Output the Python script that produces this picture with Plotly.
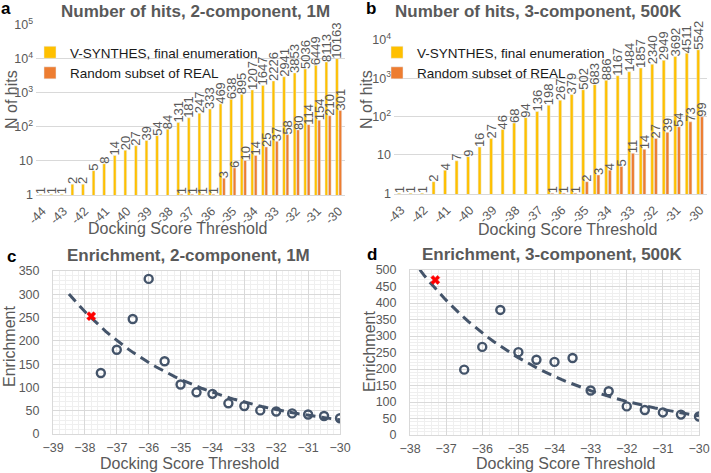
import numpy as np
import plotly.graph_objects as go

W, H = 711, 473

# ---------------- data ----------------
# Panel a: 2-component, 1M
a_x = [-44 + 0.5 * i for i in range(29)]
a_vsyn = [1, 1, 1, 2, 2, 5, 8, 14, 20, 27, 39, 54, 84, 131, 181, 247, 333, 469,
          638, 895, 1207, 1647, 2226, 2941, 3853, 5036, 6449, 8113, 10163]
a_rand = [None] * 13 + [1, 1, 1, 1, 3, 6, 10, 14, 25, 37, 58, 80, 114, 154, 210, 301]

# Panel b: 3-component, 500K
b_x = [-43 + 0.5 * i for i in range(27)]
b_vsyn = [1, 1, 1, 2, 4, 7, 9, 16, 27, 46, 68, 94, 136, 198, 267, 379, 502, 683,
          886, 1167, 1484, 1857, 2340, 2949, 3692, 4511, 5542]
b_rand = [None] * 13 + [1, 1, 1, 2, 3, 4, 5, 11, 14, 27, 39, 54, 73, 99]

# Panel c / d: enrichment (V-SYNTHES hits / random hits)
c_x = [-37.5 + 0.5 * i for i in range(16)]
c_enr = [131, 181, 247, 333, 156.3, 106.3, 89.5, 86.2, 65.9, 60.2, 50.7, 48.2,
         44.2, 41.9, 38.6, 33.8]
c_star_x, c_star_y = [-37.8], [253]

d_x = [-36.5 + 0.5 * i for i in range(14)]
d_enr = [198, 267, 379, 251, 228, 221.5, 233.4, 134.9, 132.6, 86.7, 75.6, 68.4,
         61.8, 56]
d_star_x, d_star_y = [-37.3], [470]

a_ticks = list(range(-44, -29))
b_ticks = list(range(-43, -29))
log_a_vals = [1, 10, 100, 1000, 10000, 100000]
log_a_text = ["1", "10", "10<sup>2</sup>", "10<sup>3</sup>", "10<sup>4</sup>", "10<sup>5</sup>"]
log_b_vals = [1, 10, 100, 1000, 10000]
log_b_text = ["1", "10", "10<sup>2</sup>", "10<sup>3</sup>", "10<sup>4</sup>"]

YEL = "#FFC000"
ORA = "#ED7D31"
NAVY = "#44546A"
GRAY = "#595959"
FONT = "Liberation Sans, Arial, sans-serif"

TITLE_SIZE = 17
AXT_SIZE = 16
TICK_SIZE = 12.5
BARTXT_SIZE = 13
LEG_SIZE = 13.5


def px_x(p):
    return p / W


def px_y(p):
    return 1 - p / H


def lbl(v):
    return ["" if x is None else str(x) for x in v]


fig = go.Figure()


def add_bars(xs, ys, name, color, xa, ya, leg, grp):
    fig.add_trace(go.Bar(x=xs, y=ys, name=name, marker_color=color,
                         text=lbl(ys), textposition="outside", textangle=-90,
                         constraintext="none", cliponaxis=False,
                         textfont=dict(size=BARTXT_SIZE, color=GRAY, family=FONT),
                         xaxis=xa, yaxis=ya, legend=leg, offsetgroup=grp))


add_bars(a_x, a_vsyn, "V-SYNTHES, final enumeration", YEL, "x", "y", "legend", "1")
add_bars(a_x, a_rand, "Random subset of REAL", ORA, "x", "y", "legend", "2")
add_bars(b_x, b_vsyn, "V-SYNTHES, final enumeration", YEL, "x2", "y2", "legend2", "1")
add_bars(b_x, b_rand, "Random subset of REAL", ORA, "x2", "y2", "legend2", "2")


# ---- panel c / d scatter + exponential trendline ----
def exp_trend(xs, ys, x0, x1):
    b, a = np.polyfit(np.array(xs), np.log(np.array(ys)), 1)
    tx = np.linspace(x0, x1, 60)
    return tx, np.exp(a + b * tx)


tcx, tcy = exp_trend(c_x, c_enr, -38.5, -30)
tdx, tdy = exp_trend(d_x, d_enr, -38, -30)

for (tx, ty, xs, ys, sx, sy, xa, ya) in [
        (tcx, tcy, c_x, c_enr, c_star_x, c_star_y, "x3", "y3"),
        (tdx, tdy, d_x, d_enr, d_star_x, d_star_y, "x4", "y4")]:
    fig.add_trace(go.Scatter(x=tx, y=ty, mode="lines", showlegend=False,
                             line=dict(color=NAVY, width=3, dash="10px,6px"),
                             xaxis=xa, yaxis=ya, hoverinfo="skip"))
    fig.add_trace(go.Scatter(x=xs, y=ys, mode="markers", showlegend=False,
                             marker=dict(symbol="circle-open", size=8, color=NAVY,
                                         line=dict(width=2.4, color=NAVY)),
                             xaxis=xa, yaxis=ya))
    fig.add_trace(go.Scatter(x=sx, y=sy, mode="markers", showlegend=False,
                             marker=dict(symbol="x", size=8, color="#FF0000",
                                         line=dict(width=0.5, color="#FF0000")),
                             xaxis=xa, yaxis=ya))

tickfont = dict(size=TICK_SIZE, color=GRAY, family=FONT)

bar_x_common = dict(tickmode="array", tickangle=-45, showgrid=False,
                    showline=True, linecolor="#D9D9D9", linewidth=1,
                    ticks="", tickfont=tickfont, zeroline=False,
                    ticklabelstandoff=3, ticklabeloverflow="allow")
bar_y_common = dict(type="log", showgrid=True, gridcolor="#D9D9D9", gridwidth=1,
                    tickmode="array", ticks="", tickfont=tickfont, showline=False,
                    zeroline=False, ticklabelstandoff=2, ticklabeloverflow="allow")
sc_x_common = dict(dtick=1, showgrid=True, gridcolor="#D9D9D9", gridwidth=1,
                   showline=True, linecolor="#D9D9D9", mirror=True, ticks="",
                   tickfont=tickfont, zeroline=False, ticklabelstandoff=2,
                   ticklabeloverflow="allow",
                   minor=dict(dtick=0.2, showgrid=True, gridcolor="#EFEFEF", gridwidth=1))
sc_y_common = dict(dtick=50, showgrid=True, gridcolor="#D9D9D9", gridwidth=1,
                   showline=True, linecolor="#D9D9D9", mirror=True, ticks="",
                   tickfont=tickfont, zeroline=False, ticklabelstandoff=10,
                   ticklabeloverflow="allow",
                   minor=dict(dtick=10, showgrid=True, gridcolor="#EFEFEF", gridwidth=1))

fig.update_layout(
    width=W, height=H,
    margin=dict(l=0, r=0, t=0, b=0, autoexpand=False),
    paper_bgcolor="white", plot_bgcolor="white",
    font=dict(family=FONT, color=GRAY),
    barmode="group", bargap=0.36, bargroupgap=0.18,
    xaxis=dict(domain=[px_x(36), px_x(345)], range=[-44.3, -29.7],
               tickvals=a_ticks, ticktext=[str(t) for t in a_ticks],
               anchor="y", **bar_x_common),
    yaxis=dict(domain=[px_y(195), px_y(25)], range=[-0.02, 5], anchor="x",
               tickvals=log_a_vals, ticktext=log_a_text, **bar_y_common),
    xaxis2=dict(domain=[px_x(394), px_x(707)], range=[-43.3, -29.7],
                tickvals=b_ticks, ticktext=[str(t) for t in b_ticks],
                anchor="y2", **bar_x_common),
    yaxis2=dict(domain=[px_y(194), px_y(40)], range=[-0.02, 4], anchor="x2",
                tickvals=log_b_vals, ticktext=log_b_text, **bar_y_common),
    xaxis3=dict(domain=[px_x(53), px_x(340)], range=[-39, -30], anchor="y3",
                **sc_x_common),
    yaxis3=dict(domain=[px_y(434), px_y(271)], range=[0, 350], anchor="x3",
                **sc_y_common),
    xaxis4=dict(domain=[px_x(410), px_x(699)], range=[-38, -30], anchor="y4",
                **sc_x_common),
    yaxis4=dict(domain=[px_y(435), px_y(270)], range=[0, 500], anchor="x4",
                **sc_y_common),
    legend=dict(x=px_x(30), y=px_y(37), xanchor="left", yanchor="top",
                bgcolor="rgba(0,0,0,0)", font=dict(size=LEG_SIZE, color="#1a1a1a", family=FONT),
                tracegroupgap=0, itemwidth=30),
    legend2=dict(x=px_x(377), y=px_y(37), xanchor="left", yanchor="top",
                 bgcolor="rgba(0,0,0,0)", font=dict(size=LEG_SIZE, color="#1a1a1a", family=FONT),
                 tracegroupgap=0, itemwidth=30),
)


def ann(text, x, y, size, bold=False, color=GRAY, angle=0):
    fig.add_annotation(text=("<b>%s</b>" % text) if bold else text,
                       x=px_x(x), y=px_y(y), xref="paper", yref="paper",
                       showarrow=False, textangle=angle, xanchor="center",
                       yanchor="middle",
                       font=dict(size=size, color=color, family=FONT))


# titles
ann("Number of hits, 2-component, 1M", 195, 12, TITLE_SIZE, bold=True)
ann("Number of hits, 3-component, 500K", 538, 12, TITLE_SIZE, bold=True)
ann("Enrichment, 2-component, 1M", 189, 255, TITLE_SIZE, bold=True)
ann("Enrichment, 3-component, 500K", 552, 254, TITLE_SIZE, bold=True)
# panel letters
ann("a", 6, 9, 17, bold=True, color="#000000")
ann("b", 371, 9, 17, bold=True, color="#000000")
ann("c", 11, 256, 17, bold=True, color="#000000")
ann("d", 372, 254, 17, bold=True, color="#000000")
# axis titles
ann("Docking Score Threshold", 177, 229, AXT_SIZE)
ann("Docking Score Threshold", 567, 230, AXT_SIZE)
ann("Docking Score Threshold", 190, 463, AXT_SIZE)
ann("Docking Score Threshold", 565, 463, AXT_SIZE)
ann("N of hits", 12, 100, AXT_SIZE, angle=-90)
ann("N of hits", 367, 100, AXT_SIZE, angle=-90)
ann("Enrichment", 9, 347, AXT_SIZE, angle=-90)
ann("Enrichment", 369, 352, AXT_SIZE, angle=-90)

fig.write_html("out.html", config={"displayModeBar": False},
               post_script="document.body.style.margin='0';document.body.style.padding='0';")
